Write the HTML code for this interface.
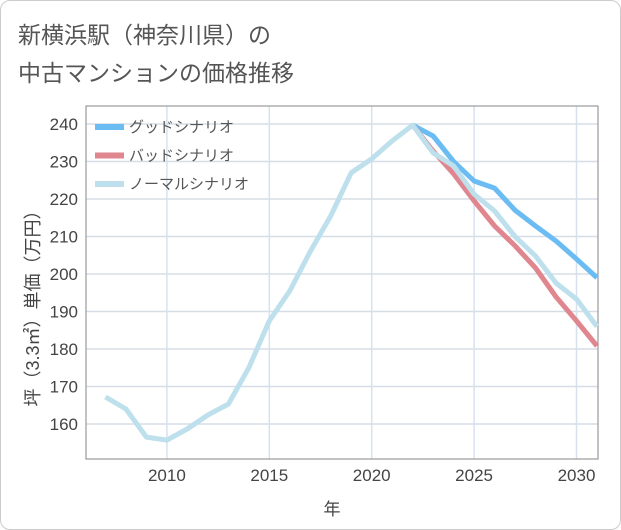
<!DOCTYPE html>
<html><head><meta charset="utf-8"><style>
body{margin:0;background:#fff;}
.wrap{position:relative;width:619px;height:528px;border:1px solid #ccc;border-radius:10px;overflow:hidden;font-family:"Liberation Sans","Noto Sans CJK JP",sans-serif;}
</style></head><body>
<div class="wrap">
<svg id="chart" width="621" height="530"></svg>
</div>
<script>
const years=[2007,2008,2009,2010,2011,2012,2013,2014,2015,2016,2017,2018,2019,2020,2021,2022,2023,2024,2025,2026,2027,2028,2029,2030,2031];
const normal=[167.2,164,156.5,155.7,158.7,162.4,165.3,175,187.5,195.5,206,215.5,227,230.7,235.5,239.7,232.3,228.8,221.3,216.8,210,204.8,197.6,193.3,186];
const goodYears=[2022,2023,2024,2025,2026,2027,2028,2029,2030,2031];
const good=[239.7,236.8,230,224.8,222.9,217,212.8,208.8,204,199];
const bad=[239.7,232.8,226.7,219.5,212.8,207.5,201.6,193.9,187.5,180.8];
const yTicks=[160,170,180,190,200,210,220,230,240];
const xTicks=[2010,2015,2020,2025,2030];
const L=85,R=597,T=105,B=458;
const x=v=>L+(v-2006.05)*(R-L)/(2031.05-2006.05);
const y=v=>123+(240-v)*3.75;
const svg=document.getElementById('chart');
const NS='http://www.w3.org/2000/svg';
function mk(t,a,p){const e=document.createElementNS(NS,t);for(const k in a)e.setAttribute(k,a[k]);(p||svg).appendChild(e);return e;}
function txt(s,a){const e=mk('text',a);e.textContent=s;return e;}
let e;
e=txt('新横浜駅（神奈川県）の',{x:17,y:42,'font-size':23,fill:'#555'});


e=txt('中古マンションの価格推移',{x:17,y:80,'font-size':23,fill:'#555'});


yTicks.forEach(v=>{
 e=mk('line',{x1:L,x2:R,y1:y(v),y2:y(v),stroke:'#d5dde6','stroke-width':1.5});
 
 
 e=txt(v,{x:L-8,y:y(v)+6,'text-anchor':'end','font-size':17,fill:'#444'});
 
 
});
xTicks.forEach(v=>{
 e=mk('line',{x1:x(v),x2:x(v),y1:T,y2:B,stroke:'#d5e2ee','stroke-width':1.5});
 
 
 e=txt(v,{x:x(v),y:B+22,'text-anchor':'middle','font-size':17,fill:'#444'});
 
 
});
e=mk('rect',{x:L,y:T,width:R-L,height:B-T,fill:'none',stroke:'#999','stroke-width':1.2});


e=txt('年',{x:331,y:514,'text-anchor':'middle','font-size':17,fill:'#444'});


e=txt('坪（3.3㎡）単価（万円）',{x:0,y:0,'text-anchor':'middle','font-size':18,fill:'#444',transform:'translate(38,303) rotate(-90)'});


function line(xs,vs,c,name){
 const d=xs.map((a,i)=>(i?'L':'M')+x(a)+' '+y(vs[i])).join(' ');
 const p=mk('path',{d:d,fill:'none',stroke:c,'stroke-width':5,'stroke-linejoin':'round'});
 
 
}
line(goodYears,good,'#6bbcf3','good-scenario-line');
line(goodYears,bad,'#e0868f','bad-scenario-line');
line(years,normal,'#bde0ec','normal-scenario-line');
const leg=[['グッドシナリオ','#6bbcf3'],['バッドシナリオ','#e0868f'],['ノーマルシナリオ','#bde0ec']];
leg.forEach((l,i)=>{
 const yy=126+i*28.5;
 e=mk('line',{x1:94,x2:123,y1:yy,y2:yy,stroke:l[1],'stroke-width':6});
 
 
 e=txt(l[0],{x:128,y:yy+5,'font-size':15,fill:'#555'});
 
 
});
</script>
</body></html>
